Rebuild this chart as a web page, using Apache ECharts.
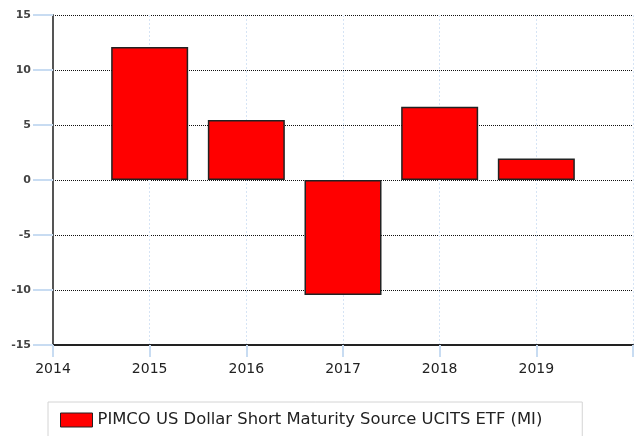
<!DOCTYPE html>
<html>
<head>
<meta charset="utf-8">
<script src="https://cdn.jsdelivr.net/npm/echarts@6/dist/echarts.min.js"></script>
<style>
  html, body { margin: 0; padding: 0; background: #fff; }
  #main { width: 636px; height: 436px; }
</style>
</head>
<body>
<div id="main"></div>
<script>
// yearly returns
const years = [2015, 2016, 2017, 2018, 2019]
const returns = [12.1, 5.45, -10.45, 6.65, 1.95]
const seriesName = 'PIMCO US Dollar Short Maturity Source UCITS ETF (MI)'

const chart = echarts.init(document.getElementById('main'))

const option = {
  animation: false,
  textStyle: { fontFamily: 'DejaVu Sans' },
  grid: { left: 53, right: 2, top: 15, bottom: 91 },
  legend: {
    data: [seriesName],
    icon: 'rect',
    left: 48,
    top: 402,
    padding: [10, 40, 10, 12],
    borderColor: '#d4d4d4',
    borderWidth: 1,
    itemWidth: 32,
    itemHeight: 14,
    itemGap: 6,
    itemStyle: { borderColor: '#222', borderWidth: 1 },
    textStyle: { fontSize: 16.4, color: '#222', fontFamily: 'DejaVu Sans' }
  },
  xAxis: {
    type: 'value',
    min: 2014,
    max: 2020,
    interval: 1,
    axisLine: { onZero: false, lineStyle: { color: '#222', width: 2 } },
    axisTick: { show: true, length: 12, lineStyle: { color: '#c8dcf2', width: 2 } },
    axisLabel: {
      fontSize: 14,
      color: '#222',
      margin: 17,
      formatter: v => (v === 2020 ? '' : String(v))
    },
    splitLine: { show: true, lineStyle: { color: '#d6e4f5', type: [2, 2], width: 1 } }
  },
  yAxis: {
    type: 'value',
    min: -15,
    max: 15,
    interval: 5,
    axisLine: { show: true, lineStyle: { color: '#555', width: 2 } },
    axisTick: { show: true, inside: false, length: 20, lineStyle: { color: '#c8dcf2', width: 2 } },
    axisLabel: { fontSize: 11, fontWeight: 'bold', color: '#444', margin: 22 },
    splitLine: { show: true, lineStyle: { color: '#111', type: [1, 1], width: 1 } }
  },
  series: [
    {
      name: seriesName,
      type: 'bar',
      barWidth: 77,
      data: years.map((y, i) => [y, returns[i]]),
      itemStyle: { color: '#ff0000', borderColor: '#222', borderWidth: 1.5 }
    }
  ]
}

chart.setOption(option)
</script>
</body>
</html>
